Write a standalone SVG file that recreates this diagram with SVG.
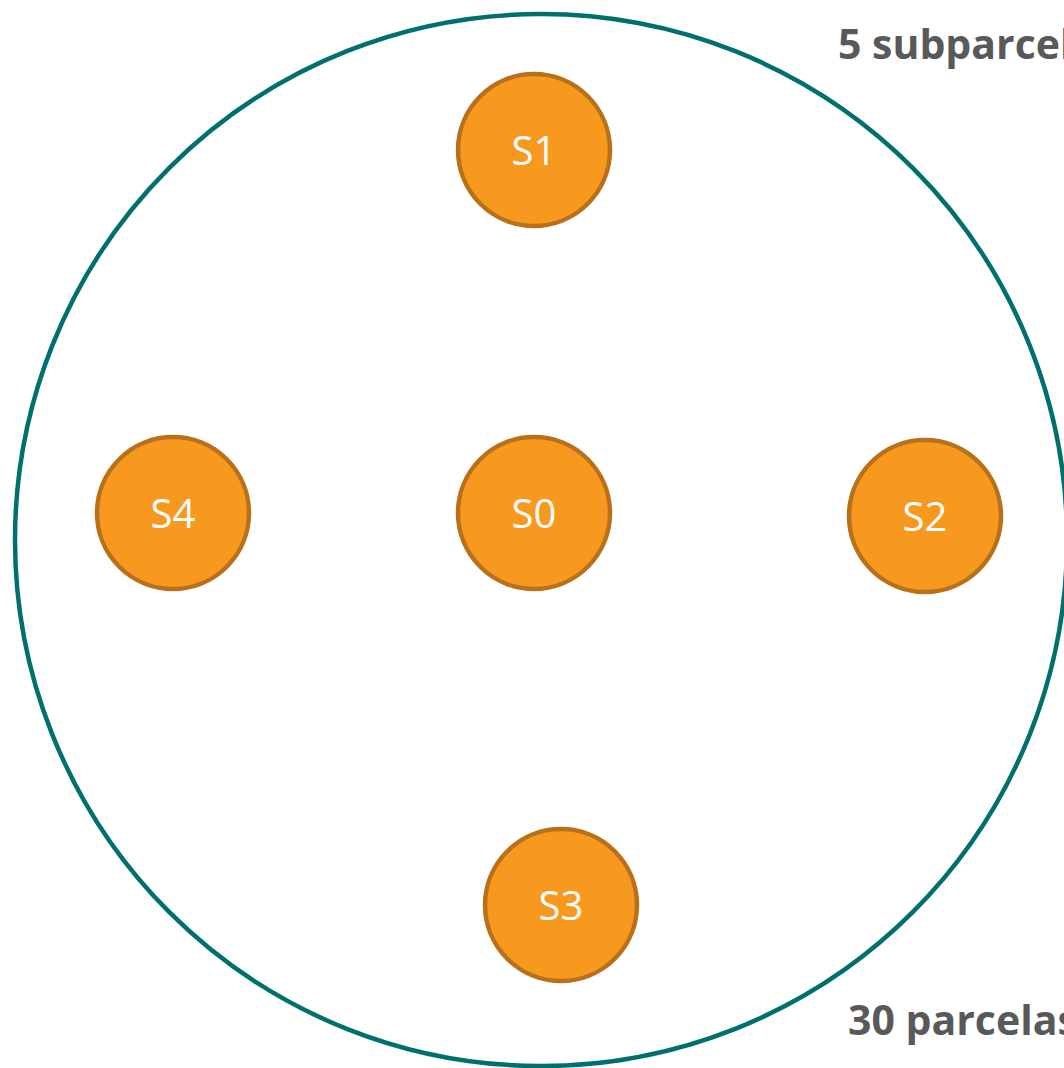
<svg xmlns="http://www.w3.org/2000/svg" width="1064" height="1068" viewBox="0 0 1064 1068">
<style>
.sub{fill:#f7981f;stroke:#b8711a;stroke-width:4.5}
.lbl{font-family:"Open Sans","Noto Sans",sans-serif;font-size:40px;fill:#ffffff;text-anchor:middle}
.note{font-family:"Open Sans","Noto Sans",sans-serif;font-size:41px;font-weight:bold;fill:#595959}
</style>
<rect width="1064" height="1068" fill="#ffffff"/>
<g id="plot">
<circle cx="541" cy="540" r="526" fill="none" stroke="#00706f" stroke-width="4.5"/>
</g>
<g id="S1"><circle class="sub" cx="534" cy="150" r="76"/><text class="lbl" x="534" y="165">S1</text></g>
<g id="S0"><circle class="sub" cx="534" cy="513" r="76"/><text class="lbl" x="534" y="528">S0</text></g>
<g id="S4"><circle class="sub" cx="173" cy="513" r="76"/><text class="lbl" x="173" y="528">S4</text></g>
<g id="S2"><circle class="sub" cx="925" cy="516" r="76"/><text class="lbl" x="925" y="531">S2</text></g>
<g id="S3"><circle class="sub" cx="561" cy="905" r="76"/><text class="lbl" x="561" y="920">S3</text></g>
<g id="connectors"></g>
<g id="labels">
<text class="note" x="838" y="59">5 subparcelas</text>
<text class="note" x="848" y="1035">30 parcelas</text>
</g>
</svg>
